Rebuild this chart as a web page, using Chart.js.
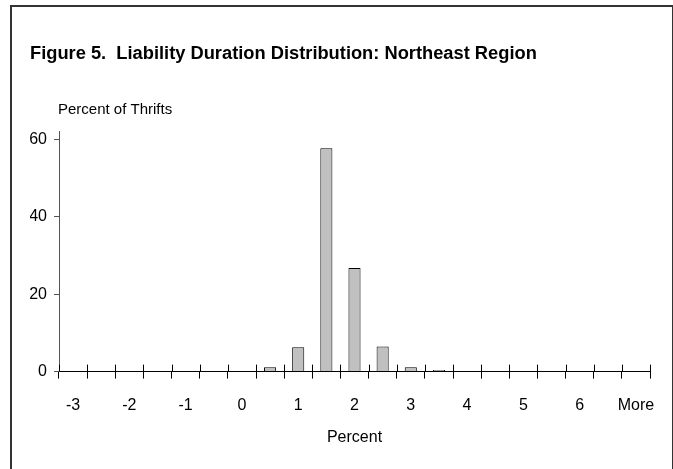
<!DOCTYPE html>
<html>
<head>
<meta charset="utf-8">
<script src="https://cdn.jsdelivr.net/npm/chart.js@4.4.0/dist/chart.umd.min.js"></script>
<style>
  body { margin: 0; background: #fff; }
  #frame {
    position: absolute; left: 10px; top: 5px; width: 660px; height: 480px;
    border: 2px solid #333; border-bottom: none;
  }
  #wrap { position: absolute; left: 0; top: 0; width: 673px; height: 469px; }
</style>
</head>
<body>
<div id="frame"></div>
<div id="wrap"><canvas id="chart" width="673" height="469"></canvas></div>
<script>
// DATA
const categories = ['-3', '-2.5', '-2', '-1.5', '-1', '-0.5', '0', '0.5', '1', '1.5', '2',
  '2.5', '3', '3.5', '4', '4.5', '5', '5.5', '6', '6.5', 'More'];
const percentOfThrifts = [0, 0, 0, 0, 0, 0, 0, 1.1, 6.3, 57.8, 26.8,
  6.5, 1.1, 0.4, 0, 0, 0, 0, 0, 0, 0];
const yTicks = [0, 20, 40, 60];

const FONT = "'Liberation Sans', Arial, sans-serif";

// y-axis caption above the axis + crossing tick marks on the x axis
const extras = {
  id: 'extras',
  afterDraw(chart) {
    const { ctx, chartArea, scales } = chart;
    ctx.save();
    ctx.fillStyle = '#000';
    ctx.font = '15px ' + FONT;
    ctx.textAlign = 'left';
    ctx.textBaseline = 'alphabetic';
    ctx.fillText('Percent of Thrifts', chartArea.left - 1, chartArea.top - 18);

    // upper half of the x tick marks (the lower half is the library's tick)
    const x = scales.x;
    const n = categories.length;
    ctx.strokeStyle = '#000';
    ctx.lineWidth = 1;
    for (let i = 0; i <= n; i++) {
      const px = Math.round(x.left + i * x.width / n) + 0.5;
      ctx.beginPath();
      ctx.moveTo(px, x.top - 7);
      ctx.lineTo(px, x.top);
      ctx.stroke();
    }
    ctx.restore();
  }
};

new Chart(document.getElementById('chart'), {
  type: 'bar',
  data: {
    labels: categories,
    datasets: [{
      label: 'Percent of Thrifts',
      data: percentOfThrifts,
      backgroundColor: '#c0c0c0',
      borderColor: '#000',
      borderWidth: 1,
      barPercentage: 0.43,
      categoryPercentage: 1
    }]
  },
  options: {
    responsive: false,
    animation: false,
    layout: { padding: { left: 30, right: 23, top: 0, bottom: 22 } },
    plugins: {
      legend: { display: false },
      tooltip: { enabled: false },
      title: {
        display: true,
        text: 'Figure 5.  Liability Duration Distribution: Northeast Region',
        align: 'start',
        color: '#000',
        font: { family: FONT, size: 18.3, weight: 'bold' },
        padding: { top: 43, bottom: 67 }
      }
    },
    scales: {
      x: {
        offset: true,
        grid: {
          offset: true,
          drawOnChartArea: false,
          drawTicks: true,
          tickLength: 7,
          color: '#000'
        },
        border: { color: '#000', width: 1 },
        ticks: {
          autoSkip: false,
          maxRotation: 0,
          padding: 17,
          color: '#000',
          font: { family: FONT, size: 16 },
          callback: (v, i) => (i % 2 === 0 ? categories[i] : '')
        },
        title: {
          display: true,
          text: 'Percent',
          color: '#000',
          font: { family: FONT, size: 16 },
          padding: { top: -4, bottom: 0 }
        }
      },
      y: {
        min: 0,
        max: 62,
        afterBuildTicks: (axis) => { axis.ticks = yTicks.map(v => ({ value: v })); },
        afterFit: (axis) => { axis.width = 29; },
        grid: {
          drawOnChartArea: false,
          drawTicks: true,
          tickLength: 5,
          color: '#555'
        },
        border: { color: '#555', width: 1 },
        ticks: {
          padding: 7,
          color: '#000',
          font: { family: FONT, size: 16 }
        }
      }
    }
  },
  plugins: [extras]
});
</script>
</body>
</html>
